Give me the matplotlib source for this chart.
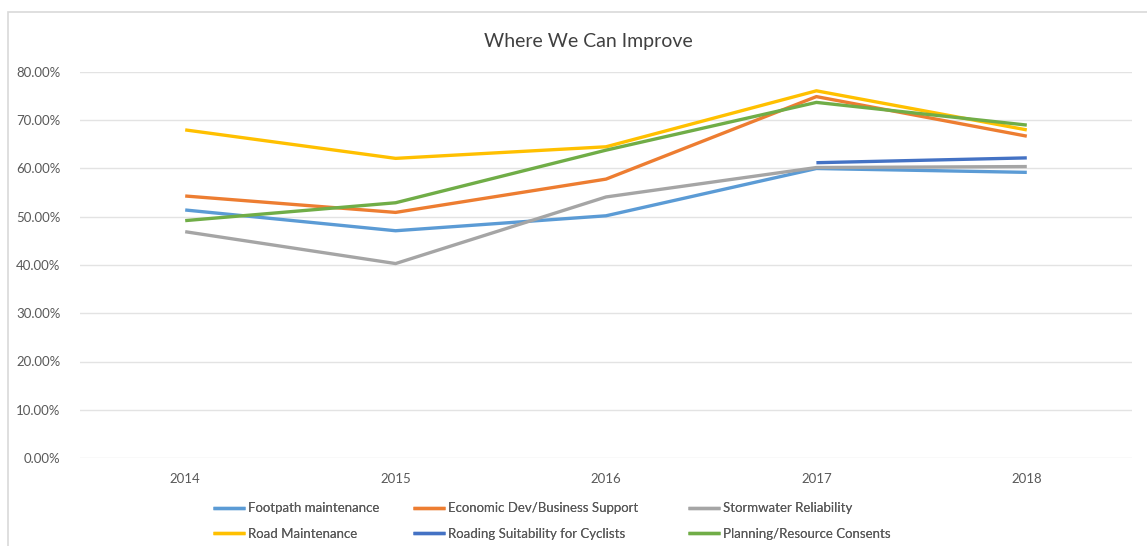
import numpy as np
import matplotlib.pyplot as plt
from matplotlib.patches import Rectangle
from matplotlib.ticker import PercentFormatter

years = ['2014', '2015', '2016', '2017', '2018']
footpath = [0.514, 0.471, 0.502, 0.600, 0.592]
economic = [0.543, 0.509, 0.578, 0.749, 0.667]
stormwater = [0.469, 0.403, 0.541, 0.602, 0.604]
road = [0.680, 0.621, 0.645, 0.761, 0.680]
cyclists = [np.nan, np.nan, np.nan, 0.612, 0.622]
planning = [0.492, 0.529, 0.638, 0.737, 0.690]

series = [
    ('Footpath maintenance', footpath, '#5B9BD5'),
    ('Economic Dev/Business Support', economic, '#ED7D31'),
    ('Stormwater Reliability', stormwater, '#A5A5A5'),
    ('Road Maintenance', road, '#FFC000'),
    ('Roading Suitability for Cyclists', cyclists, '#4472C4'),
    ('Planning/Resource Consents', planning, '#70AD47'),
]

plt.rcParams['font.family'] = ['Lato', 'DejaVu Sans']

dpi = 100
W, H = 1147, 546
fig = plt.figure(dpi=dpi, figsize=(W / dpi, H / dpi))
fig.patches.append(Rectangle((8 / W, -0.1), 1.2, 1 - 12 / H + 0.1,
                             transform=fig.transFigure, fill=False,
                             edgecolor='#D9D9D9', linewidth=1.2))

ax = fig.add_axes([80 / W, 1 - 458 / H, (1132 - 80) / W, (458 - 72) / H])
x = np.arange(len(years))
lines = []
for name, vals, col in series:
    ln, = ax.plot(x, vals, color=col, linewidth=2.4, label=name, solid_capstyle='butt')
    lines.append(ln)

ax.set_xlim(-0.5, 4.5)
ax.set_ylim(0, 0.8)
ax.set_yticks(np.arange(0, 0.81, 0.1))
ax.yaxis.set_major_formatter(PercentFormatter(1.0, decimals=2))
ax.set_xticks(x)
ax.set_xticklabels(years)
ax.grid(axis='y', color='#E3E3E3', linewidth=1)
ax.set_axisbelow(True)
for s in ax.spines.values():
    s.set_visible(False)
ax.tick_params(length=0, labelsize=9.5, labelcolor='#595959')
ax.tick_params(axis='y', pad=14)
ax.tick_params(axis='x', pad=11)

fig.text(588 / W, 1 - 42 / H, 'Where We Can Improve', ha='center', va='center',
         fontsize=14, color='#404040')

# one legend per column, Excel-style row order
col_x = [213, 413, 688]
for c, px in enumerate(col_x):
    idx = [c, c + 3]
    leg = fig.legend([lines[i] for i in idx], [series[i][0] for i in idx],
                     loc='center left', bbox_to_anchor=((px - 5) / W, 1 - 521 / H),
                     frameon=False, fontsize=9.5, labelcolor='#595959',
                     handlelength=2.4, handletextpad=0.2, labelspacing=1.0,
                     borderaxespad=0)
    fig.add_artist(leg)

fig.savefig('out.png', dpi=dpi)
